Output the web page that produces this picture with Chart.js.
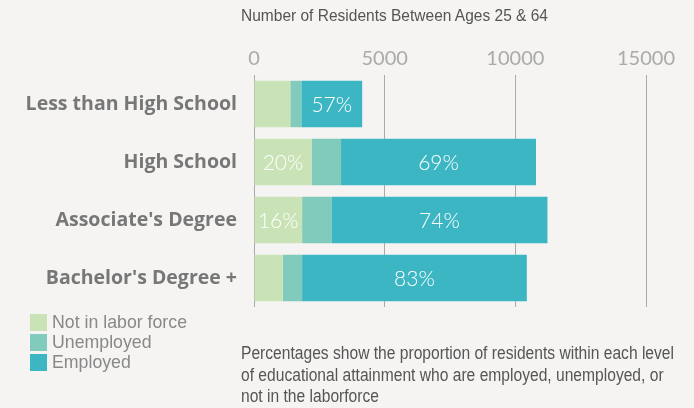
<!DOCTYPE html>
<html>
<head>
<meta charset="utf-8">
<script src="https://cdn.jsdelivr.net/npm/chart.js@4/dist/chart.umd.min.js"></script>
<style>
  html, body { margin: 0; padding: 0; background: #f5f4f2; }
  #wrap { position: relative; width: 694px; height: 408px; overflow: hidden; background: #f5f4f2; }
  #chart { position: absolute; left: 0; top: 0; }
  .narrow { font-family: 'Liberation Sans', 'Roboto', sans-serif; }
  .fit { display: inline-block; transform-origin: 0 50%; white-space: nowrap; }
  #axisTitle { position: absolute; left: 241px; top: 6px; font-size: 17px; line-height: 20px; color: #555; }
  #note { position: absolute; left: 241px; top: 343px; font-size: 17.5px; line-height: 21.5px; color: #555; }
  #note div { height: 21.5px; white-space: nowrap; }
  #legend { position: absolute; left: 30px; top: 312px; }
  .li { display: flex; align-items: center; height: 20px; font-size: 19px; color: #888; }
  .sw { width: 17px; height: 17px; margin-right: 5px; flex: none; }
</style>
</head>
<body>
<div id="wrap">
  <canvas id="chart" width="694" height="408"></canvas>
  <div id="axisTitle" class="narrow"><span class="fit" data-w="307">Number of Residents Between Ages 25 &amp; 64</span></div>
  <div id="legend" class="narrow"></div>
  <div id="note" class="narrow">
    <div><span class="fit" data-w="433" data-group="note">Percentages show the proportion of residents within each level</span></div>
    <div><span class="fit" data-group="note">of educational attainment who are employed, unemployed, or</span></div>
    <div><span class="fit" data-group="note">not in the laborforce</span></div>
  </div>
</div>
<script>
const categories = ['Less than High School', 'High School', "Associate's Degree", "Bachelor's Degree +"];
const seriesNames = ['Not in labor force', 'Unemployed', 'Employed'];
const notInLaborForce = [1390, 2200, 1840, 1100];
const unemployed = [420, 1130, 1120, 740];
const employed = [2330, 7460, 8270, 8600];
const notInLaborLabels = ['', '20%', '16%', ''];
const unemployedLabels = ['', '', '', ''];
const employedLabels = ['57%', '69%', '74%', '83%'];
const xTicks = [0, 5000, 10000, 15000];
const colors = ['#c9e3b6', '#80cbbb', '#3db6c4'];

const barLabelPlugin = {
  id: 'barLabels',
  afterDatasetsDraw(chart) {
    const ctx = chart.ctx;
    ctx.save();
    ctx.fillStyle = '#ffffff';
    ctx.font = '300 21px Lato';
    ctx.textAlign = 'center';
    ctx.textBaseline = 'middle';
    chart.data.datasets.forEach((ds, di) => {
      const meta = chart.getDatasetMeta(di);
      meta.data.forEach((el, i) => {
        const t = ds.pctLabels[i];
        if (!t) return;
        const p = el.getCenterPoint();
        ctx.fillText(t, p.x, p.y + 1.5);
      });
    });
    ctx.restore();
  }
};

const chart = new Chart(document.getElementById('chart'), {
  type: 'bar',
  data: {
    labels: categories,
    datasets: [
      { label: seriesNames[0], data: notInLaborForce, backgroundColor: colors[0], pctLabels: notInLaborLabels },
      { label: seriesNames[1], data: unemployed, backgroundColor: colors[1], pctLabels: unemployedLabels },
      { label: seriesNames[2], data: employed, backgroundColor: colors[2], pctLabels: employedLabels }
    ]
  },
  options: {
    indexAxis: 'y',
    responsive: false,
    devicePixelRatio: 1,
    animation: false,
    barPercentage: 1,
    categoryPercentage: 0.8,
    layout: { padding: { left: 0, right: 48, top: 0, bottom: 101 } },
    plugins: { legend: { display: false }, tooltip: { enabled: false } },
    scales: {
      x: {
        position: 'top',
        stacked: true,
        min: 0,
        max: 15000,
        afterBuildTicks(scale) { scale.ticks = xTicks.map(v => ({ value: v })); },
        afterFit(scale) { scale.height = 75; },
        ticks: { color: '#aaaaaa', font: { family: 'Lato', size: 20 }, padding: 4, maxRotation: 0,
                 callback: (v) => String(v) },
        grid: { color: '#aaaaaa', lineWidth: 1, drawTicks: false },
        border: { display: false }
      },
      y: {
        stacked: true,
        afterFit(scale) { scale.width = 254; },
        ticks: { color: '#777777', font: { family: 'Open Sans', size: 19.5, weight: 'bold' }, padding: 17 },
        grid: { display: false, drawTicks: false },
        border: { display: false }
      }
    }
  },
  plugins: [barLabelPlugin]
});

const legend = document.getElementById('legend');
chart.data.datasets.forEach((ds, i) => {
  const row = document.createElement('div');
  row.className = 'li';
  const sw = document.createElement('span');
  sw.className = 'sw';
  sw.style.background = ds.backgroundColor;
  const tx = document.createElement('span');
  tx.className = 'fit';
  tx.dataset.group = 'legend';
  if (i === 0) tx.dataset.w = 135;
  tx.textContent = ds.label;
  row.appendChild(sw);
  row.appendChild(tx);
  legend.appendChild(row);
});

// horizontally condense text groups: scale from the reference element of each group
const groupScale = {};
document.querySelectorAll('.fit[data-w]').forEach(el => {
  const w = el.getBoundingClientRect().width;
  const s = parseFloat(el.dataset.w) / w;
  if (el.dataset.group) groupScale[el.dataset.group] = s;
  el.style.transform = 'scaleX(' + s + ')';
});
document.querySelectorAll('.fit[data-group]').forEach(el => {
  const s = groupScale[el.dataset.group];
  if (s) el.style.transform = 'scaleX(' + s + ')';
});
</script>
</body>
</html>
